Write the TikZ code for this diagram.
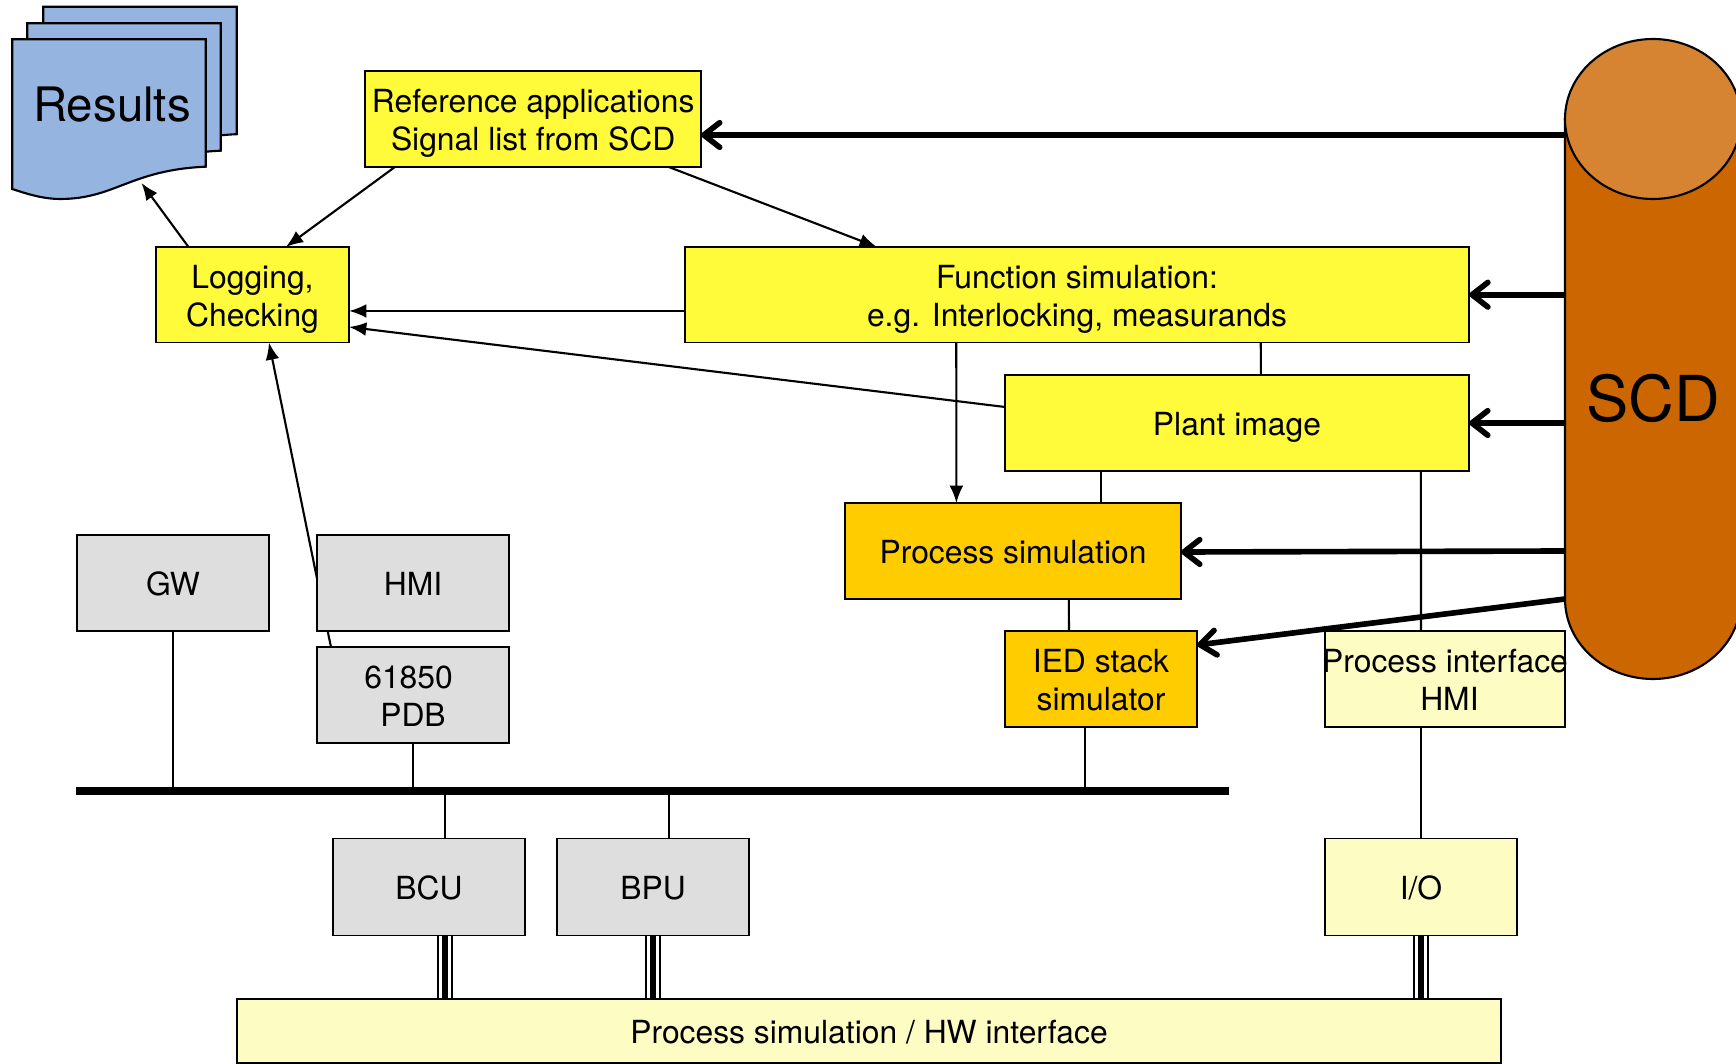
\documentclass[tikz,border=0pt]{standalone}
\usepackage{fontspec}
\setmainfont{TeX Gyre Heros}
\usetikzlibrary{arrows.meta,calc}

\definecolor{boxyellow}{HTML}{FFFB3A}
\definecolor{boxorange}{HTML}{FFCC00}
\definecolor{boxpale}{HTML}{FDFCC2}
\definecolor{boxgrey}{HTML}{DEDEDE}
\definecolor{pageblue}{HTML}{95B5E0}
\definecolor{scdbody}{HTML}{CC6600}
\definecolor{scdtop}{HTML}{D68432}

\newcommand{\firstline}{\rule{0pt}{9.1pt}}

\tikzset{
    block/.style={draw,line width=0.55pt,inner sep=0pt,outer sep=0pt,align=center,
        font=\fontsize{9.05}{10.8}\selectfont,minimum width=1.92cm,minimum height=0.96cm,
        execute at begin node={\firstline},
        execute at end node={\rule[-2pt]{0pt}{0pt}}},
    link/.style={line width=0.6pt},
    thinarrow/.style={link,-{Latex[length=4.9pt,width=3.9pt]}},
    scdarrow/.style={line width=1.6pt,-{Straight Barb[length=4.5pt,width=7pt,round]}},
    bus/.style={line width=2.3pt},
    heavywire/.style={line width=1.55pt},
    lightwire/.style={line width=0.7pt},
}

\begin{document}
\begin{tikzpicture}[x=0.01cm,y=-0.01cm]
    \useasboundingbox (0,0) rectangle (1736,1064);

    % SCD cylinder
    \coordinate (scdleft) at (1565,119);
    \draw[link,fill=scdbody] (scdleft) -- (1565,599)
        arc[start angle=180,end angle=0,x radius=88,y radius=80] -- (1741,119) -- cycle;
    \draw[link,fill=scdtop] (1653,119) ellipse [x radius=88,y radius=80];
    \node[font=\fontsize{18}{20}\selectfont] (scd) at (1653,398) {SCD};

    % Results
    \foreach \dx/\dy in {31/-32.5,15/-16,0/0}
        \draw[link,fill=pageblue,shift={(\dx,\dy)}] (12.3,39.3) -- (205.7,39.3) -- (205.7,166.7)
            .. controls (130,170) and (115,199) .. (60,199)
            .. controls (45,199) and (30,195) .. (12.3,189) -- cycle;
    \node[font=\fontsize{13.5}{16}\selectfont] (results) at (112,105) {Results};
    \coordinate (resultsedge) at (141.5,183);

    % Upper blocks
    \node[block,fill=boxyellow,minimum width=3.355cm] (refapp) at (533.2,119)
        {\firstline Reference applications\\Signal list from SCD};
    \node[block,fill=boxyellow,minimum width=1.93cm,minimum height=0.955cm] (logging) at (252.5,294.7) {\firstline Logging,\\Checking};
    \node[block,fill=boxyellow,minimum width=7.84cm,minimum height=0.955cm] (funcsim) at (1077,294.7)
        {\firstline Function simulation:\\e.g. Interlocking, measurands};
    \node[block,fill=boxyellow,minimum width=4.64cm] (plant) at (1237,423) {Plant image};
    \node[block,fill=boxorange,minimum width=3.36cm] (procsim) at (1013,551) {Process simulation};
    \node[block,fill=boxorange] (ied) at (1101,679) {\firstline IED stack\\simulator};

    % Lower blocks
    \node[block,fill=boxgrey] (gw) at (173,583) {GW};
    \node[block,fill=boxgrey,minimum width=1.91cm] (pdb) at (413,695) {\firstline 61850~\mbox{}\\PDB};
    \node[block,fill=boxgrey,minimum height=0.97cm] (bcu) at (429,887) {BCU};
    \node[block,fill=boxgrey,minimum height=0.97cm] (bpu) at (653.2,887) {BPU};
    \node[block,fill=boxpale,minimum width=1.91cm,minimum height=0.97cm] (io) at (1421,887) {I/O};
    \node[block,fill=boxpale,minimum width=12.64cm,minimum height=0.64cm] (procbar) at (869,1031)
        {Process simulation / HW interface};

    % Bus
    \coordinate (busleft) at (76,791);
    \coordinate (busright) at (1229,791);
    \draw[bus] (busleft) -- (busright);

    % Thin arrows
    \draw[thinarrow] ($(logging.north west)+(32.5,0)$) -- (resultsedge);
    \draw[thinarrow] ($(refapp.south west)+(29.5,0)$) -- ($(logging.north west)+(130,0)$);
    \draw[thinarrow] ($(refapp.south west)+(303.5,0)$) -- ($(funcsim.north west)+(192,0)$);
    \draw[thinarrow] ($(funcsim.south west)+(0,-31.5)$) -- ($(logging.south east)+(0,-31.5)$);
    \draw[thinarrow] ($(plant.north west)+(0,32)$) -- ($(logging.south east)+(0,-15.5)$);
    \draw[thinarrow] ($(funcsim.south west)+(271.5,0)$) -- ($(procsim.north west)+(111.5,0)$);
    \draw[thinarrow] ($(pdb.north west)+(13.5,0)$) -- ($(logging.south west)+(113,0)$);

    % Plain links
    \draw[link] ($(funcsim.south west)+(576,0)$) -- ($(plant.north west)+(256,0)$);
    \draw[link] (ied.north |- plant.south) -- (ied.north |- procsim.north);
    \draw[link] ($(plant.south west)+(416,0)$) -- ($(io.north)+(0,-207)$);
    \draw[link] ($(procsim.south west)+(224,0)$) -- ($(ied.north west)+(64,0)$);
    \draw[link] ($(ied.south west)+(80,0)$) -- ($(ied.south west)+(80,64)$);
    \draw[link] (gw.south) -- (gw.south |- busleft);
    \draw[link] (pdb.south) -- (pdb.south |- busleft);
    \draw[link] ($(bcu.north west)+(112,0)$) -- ($(bcu.north west)+(112,-47)$);
    \draw[link] ($(bpu.north)+(15.8,0)$) -- ($(bpu.north)+(15.8,-47)$);

    % Arrows from the SCD
    \draw[scdarrow] ($(scdleft)+(0,16)$) -- ($(refapp.east)+(0,16)$);
    \draw[scdarrow] (scdleft |- funcsim.east) -- (funcsim.east);
    \draw[scdarrow] (scdleft |- plant.east) -- (plant.east);
    \draw[scdarrow] (scdleft |- procsim.east) -- ($(procsim.east)+(0,1)$);
    \draw[scdarrow] ($(scdleft)+(0,480)$) -- ($(ied.north east)+(0,14)$);

    % These two lie over the lines behind them
    \node[block,fill=boxgrey,minimum width=1.91cm] (hmi) at (413,583) {HMI};
    \node[block,fill=boxpale,minimum width=2.4cm] (pihmi) at (1445,679) {\firstline\makebox[0pt]{Process interface}\\\mbox{}~HMI};
    \draw[link] (pihmi.south -| io.north) -- (io.north);

    % Triple wires down to the HW interface
    \foreach \src/\off in {bcu/16,bpu/0,io/0} {
        \draw[heavywire] ($(\src.south)+(\off,0)$) -- ($(\src.south)+(\off,64)$);
        \draw[lightwire] ($(\src.south)+(\off-7,0)$) -- ($(\src.south)+(\off-7,64)$);
        \draw[lightwire] ($(\src.south)+(\off+7,0)$) -- ($(\src.south)+(\off+7,64)$);
    }
\end{tikzpicture}
\end{document}
